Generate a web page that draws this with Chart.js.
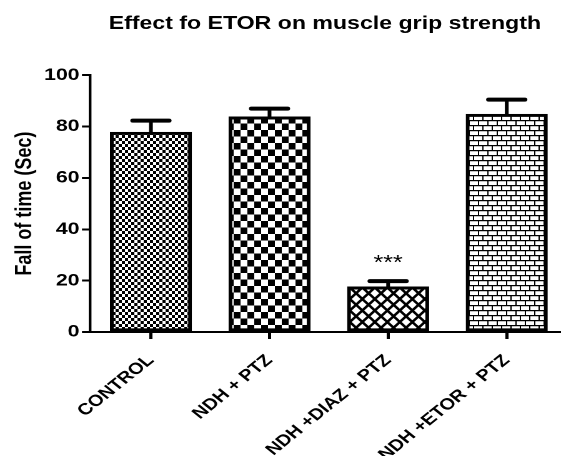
<!DOCTYPE html>
<html>
<head>
<meta charset="utf-8">
<script src="https://cdn.jsdelivr.net/npm/chart.js@4"></script>
<style>
    body { margin: 0; background: #fff; overflow: hidden; }
    /* the original figure is stretched sideways, so the chart is drawn narrower and widened */
    #wrap { width: 449px; height: 456px; transform: scaleX(1.2494); transform-origin: 0 0; }
</style>
</head>
<body>
<div id="wrap"><canvas id="myChart" width="449" height="456"></canvas></div>
<script>
// 데이터
const categories = ["CONTROL", "NDH + PTZ", "NDH +DIAZ + PTZ", "NDH +ETOR + PTZ"];
const means = [77.8, 83.8, 17.6, 84.8];
const errs = [4.5, 3.2, 2.2, 5.7];
const marks = ["", "", "***", ""];
const yTicks = [0, 20, 40, 60, 80, 100];

const fontFamily = "'Liberation Sans', Arial, sans-serif";

// pattern tiles are drawn at 2x (device pixel ratio) and scaled back
function makePattern(w, h, draw) {
    let c = document.createElement("canvas");
    c.width = w;
    c.height = h;
    let g = c.getContext("2d");
    g.fillStyle = "#fff";
    g.fillRect(0, 0, w, h);
    g.fillStyle = "#000";
    g.strokeStyle = "#000";
    draw(g, w, h);
    let p = g.createPattern(c, "repeat");
    p.setTransform(new DOMMatrix([0.5, 0, 0, 0.5, 0, 0]));
    return p;
}

// fine checks
let fineCheck = makePattern(10, 12, function (g) {
    g.fillRect(0, 0, 5, 6);
    g.fillRect(5, 6, 5, 6);
});

// big checks
let bigCheck = makePattern(22, 26, function (g) {
    g.fillRect(0, 0, 11, 13);
    g.fillRect(11, 13, 11, 13);
});

// diamond lattice
let diamonds = makePattern(20, 23, function (g, w, h) {
    g.lineWidth = 4.5;
    for (let k = -1; k <= 1; k++) {
        g.beginPath();
        g.moveTo(k * w, 0);
        g.lineTo(k * w + w, h);
        g.moveTo(k * w + w, 0);
        g.lineTo(k * w, h);
        g.stroke();
    }
});

// bricks
let bricks = makePattern(15, 20, function (g) {
    g.fillRect(0, 0, 15, 2);
    g.fillRect(0, 10, 15, 2);
    g.fillStyle = "#888";
    g.fillRect(0, 2, 15, 1);
    g.fillRect(0, 12, 15, 1);
    g.fillStyle = "#000";
    g.fillRect(0, 2, 2, 8);
    g.fillRect(7, 12, 2, 8);
});

// 오차 막대와 별표
const errorBars = {
    id: "errorBars",
    afterDatasetsDraw(chart) {
        let ctx = chart.ctx;
        let y = chart.scales.y;
        let meta = chart.getDatasetMeta(0);
        ctx.save();
        ctx.strokeStyle = "#000";
        ctx.fillStyle = "#000";
        meta.data.forEach(function (bar, i) {
            let top = y.getPixelForValue(means[i] + errs[i]);
            let base = y.getPixelForValue(means[i]);
            ctx.lineWidth = 3;
            ctx.lineCap = "butt";
            ctx.beginPath();
            ctx.moveTo(bar.x, base);
            ctx.lineTo(bar.x, top);
            ctx.stroke();
            ctx.lineWidth = 4;
            ctx.lineCap = "round";
            ctx.beginPath();
            ctx.moveTo(bar.x - 14.5, top);
            ctx.lineTo(bar.x + 14.5, top);
            ctx.stroke();
            if (marks[i]) {
                ctx.font = "20px " + fontFamily;
                ctx.textAlign = "center";
                ctx.textBaseline = "alphabetic";
                ctx.fillText(marks[i], bar.x, top - 12);
            }
        });
        ctx.restore();
    }
};

let config = {
    type: "bar",
    data: {
        datasets: [
            {
                data: means.map(function (v, i) { return { x: i, y: v }; }),
                backgroundColor: [fineCheck, bigCheck, diamonds, bricks],
                borderColor: "#000",
                borderWidth: 3,
                borderSkipped: false,
                barThickness: 65
            }
        ]
    },
    options: {
        responsive: false,
        devicePixelRatio: 2,
        animation: false,
        layout: { padding: { left: 0, right: 1, top: 0, bottom: 0 } },
        plugins: {
            legend: { display: false },
            tooltip: { enabled: false },
            title: {
                display: true,
                text: "Effect fo ETOR on muscle grip strength",
                fullSize: false,
                color: "#000",
                font: { family: fontFamily, size: 18.5, weight: "bold" },
                padding: { top: 13, bottom: 40 }
            }
        },
        scales: {
            x: {
                type: "linear",
                offset: false,
                min: -0.514,
                max: 3.447,
                afterBuildTicks: function (scale) {
                    scale.ticks = categories.map(function (c, i) { return { value: i }; });
                },
                afterFit: function (scale) { scale.height = 124; },
                border: { display: true, color: "#000", width: 2 },
                grid: { offset: false, drawOnChartArea: false, drawTicks: true, tickLength: 7, color: "#000", lineWidth: 2.5 },
                ticks: {
                    autoSkip: false,
                    minRotation: 45,
                    maxRotation: 45,
                    padding: 12,
                    color: "#000",
                    font: { family: fontFamily, size: 16, weight: "bold" },
                    callback: function (v) { return categories[v]; }
                }
            },
            y: {
                min: 0,
                max: 100,
                afterBuildTicks: function (scale) {
                    scale.ticks = yTicks.map(function (v) { return { value: v }; });
                },
                afterFit: function (scale) { scale.width = 72; },
                border: { display: true, color: "#000", width: 2.2 },
                grid: { drawOnChartArea: false, drawTicks: true, tickLength: 6.4, color: "#000", lineWidth: 2 },
                ticks: {
                    padding: 2,
                    color: "#000",
                    font: { family: fontFamily, size: 17, weight: "bold" }
                },
                title: {
                    display: true,
                    text: "Fall of time (Sec)",
                    color: "#000",
                    font: { family: fontFamily, size: 18, weight: "bold" },
                    padding: { top: 9, bottom: 0 }
                }
            }
        }
    },
    plugins: [errorBars]
};

let ctx = document.getElementById("myChart");
new Chart(ctx, config);
</script>
</body>
</html>
